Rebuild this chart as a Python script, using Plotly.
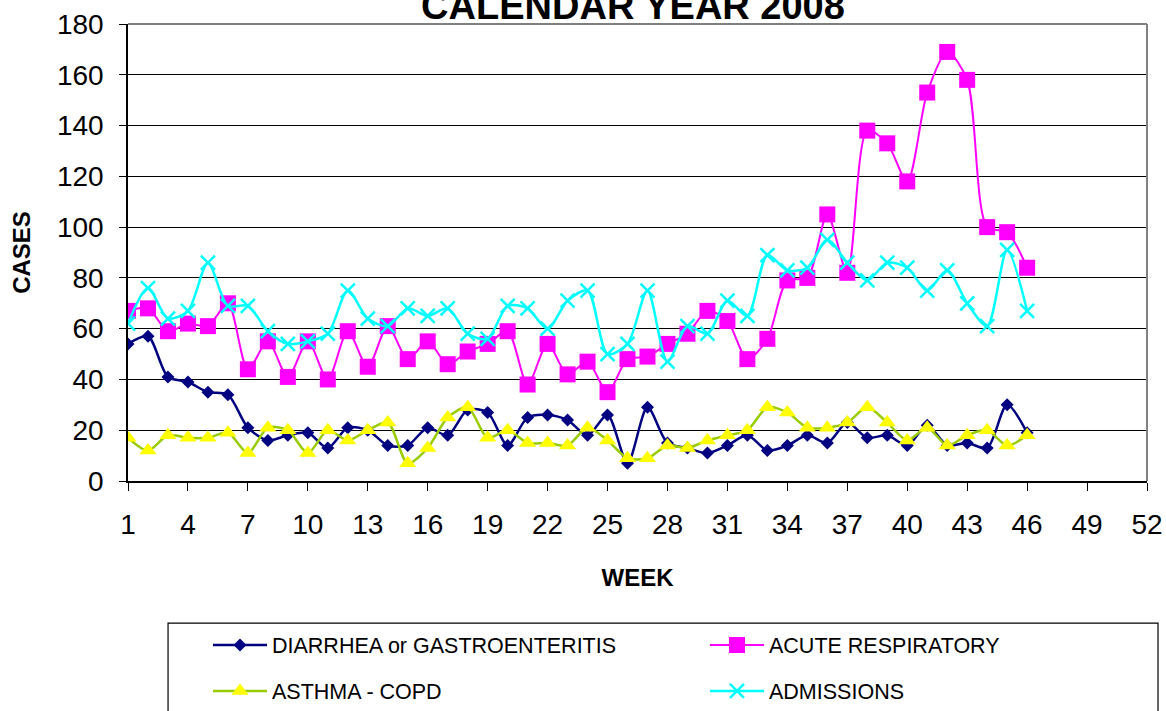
import plotly.graph_objects as go

weeks = list(range(1, 47))
diarrhea = [54, 57, 41, 39, 35, 34, 21, 16, 18, 19, 13, 21, 20, 14, 14, 21, 18, 28, 27, 14,
            25, 26, 24, 18, 26, 7, 29, 15, 13, 11, 14, 18, 12, 14, 18, 15, 23, 17, 18, 14,
            22, 14, 15, 13, 30, 19]
acute = [67, 68, 59, 62, 61, 70, 44, 55, 41, 55, 40, 59, 45, 61, 48, 55, 46, 51, 54, 59,
         38, 54, 42, 47, 35, 48, 49, 54, 58, 67, 63, 48, 56, 79, 80, 105, 82, 138, 133, 118,
         153, 169, 158, 100, 98, 84]
asthma = [17, 12, 18, 17, 17, 19, 11, 21, 20, 11, 20, 16, 20, 23, 7, 13, 25, 29, 17, 20,
          15, 15, 14, 21, 16, 9, 9, 14, 13, 16, 18, 20, 29, 27, 21, 21, 23, 29, 23, 16,
          21, 14, 18, 20, 14, 18]
admissions = [62, 76, 64, 67, 86, 69, 69, 59, 54, 55, 58, 75, 64, 61, 68, 65, 68, 58, 56, 69,
              68, 60, 71, 75, 50, 54, 75, 47, 61, 58, 71, 65, 89, 83, 84, 95, 86, 79, 86, 84,
              75, 83, 70, 61, 91, 67]
x_ticks = list(range(1, 53, 3))
y_ticks = list(range(0, 181, 20))

FONT = "Liberation Sans, Arial, sans-serif"
W, H = 1166, 711
OFF = 0  # page body margin (removed via post_script)

fig = go.Figure()
fig.add_trace(go.Scatter(
    x=weeks, y=diarrhea, name="DIARRHEA or GASTROENTERITIS", mode="lines+markers",
    line=dict(color="#000080", width=2.5, shape="spline", smoothing=0.8),
    marker=dict(symbol="diamond", size=10, color="#000080"), legend="legend"))
fig.add_trace(go.Scatter(
    x=weeks, y=acute, name="ACUTE RESPIRATORY", mode="lines+markers",
    line=dict(color="#FF00FF", width=2, shape="spline", smoothing=0.8),
    marker=dict(symbol="square", size=16, color="#FF00FF"), legend="legend"))
fig.add_trace(go.Scatter(
    x=weeks, y=asthma, name="ASTHMA - COPD", mode="lines+markers",
    line=dict(color="#99CC00", width=2.5, shape="spline", smoothing=0.8),
    marker=dict(symbol="triangle-up", size=15, color="#FFFF00"), legend="legend2"))
fig.add_trace(go.Scatter(
    x=weeks, y=admissions, name="ADMISSIONS", mode="lines+markers",
    line=dict(color="#00FFFF", width=2.5, shape="spline", smoothing=0.8),
    marker=dict(symbol="x-thin", size=14, color="#00FFFF",
                line=dict(color="#00FFFF", width=2.5)), legend="legend2"))

leg_common = dict(orientation="h", xanchor="left", yanchor="middle",
                  xref="container", yref="container",
                  font=dict(family=FONT, size=21.5, color="black"),
                  bgcolor="rgba(0,0,0,0)", borderwidth=0,
                  entrywidth=428, entrywidthmode="pixels", itemwidth=54,
                  traceorder="normal")

fig.update_layout(
    width=W, height=H,
    margin=dict(l=128 - OFF, r=W - 1147 + OFF, t=24 - OFF, b=H - 481 + OFF, autoexpand=False),
    paper_bgcolor="white", plot_bgcolor="white",
    font=dict(family=FONT, color="black"),
    title=dict(text="<b>CALENDAR YEAR 2008</b>", x=(633 - OFF) / W, xanchor="center",
               y=1 - 6 / H, yref="container", yanchor="middle",
               font=dict(family=FONT, size=38, color="black")),
    xaxis=dict(range=[1, 52], tickvals=x_ticks, ticktext=[str(v) for v in x_ticks],
               ticks="outside", ticklen=8, tickcolor="black", tickwidth=1,
               showline=True, linecolor="black", linewidth=1.5,
               showgrid=False, zeroline=False, ticklabelstandoff=10,
               tickfont=dict(family=FONT, size=28, color="black"),
               title=dict(text="<b>WEEK</b>", font=dict(family=FONT, size=24, color="black"),
                          standoff=30)),
    yaxis=dict(range=[0, 180], tickvals=y_ticks,
               ticks="outside", ticklen=7, tickcolor="black", tickwidth=1,
               showline=True, linecolor="black", linewidth=1.5,
               showgrid=True, gridcolor="black", gridwidth=1, zeroline=False,
               ticklabelstandoff=10,
               tickfont=dict(family=FONT, size=28, color="black"),
               title=dict(text="<b>CASES</b>", font=dict(family=FONT, size=24, color="black"),
                          standoff=20)),
    legend=dict(x=(208 - OFF) / W, y=1 - (645 - OFF) / H, **leg_common),
    legend2=dict(x=(208 - OFF) / W, y=1 - (691 - OFF) / H, **leg_common),
    shapes=[
        dict(type="line", xref="paper", yref="paper", x0=0, x1=1, y0=1, y1=1,
             line=dict(color="#808080", width=2), layer="above"),
        dict(type="line", xref="paper", yref="paper", x0=1, x1=1, y0=0, y1=1,
             line=dict(color="#808080", width=2), layer="above"),
        dict(type="rect", xref="paper", yref="paper", x0=0.0393, x1=1.0108,
             y0=-0.311, y1=-0.58, line=dict(color="black", width=1.2),
             fillcolor="rgba(0,0,0,0)"),
    ],
)

fig.write_html("out.html", config={"displayModeBar": False},
               post_script="document.body.style.margin='0';")
